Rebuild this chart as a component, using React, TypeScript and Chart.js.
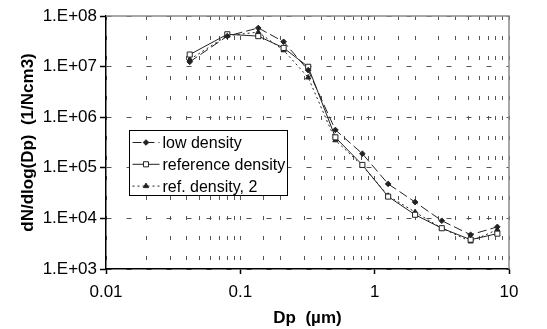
import React, { useEffect, useRef } from 'react';
import { Chart, registerables } from 'chart.js';
Chart.register(...registerables);

const diameters = [0.042, 0.08, 0.136, 0.21, 0.32, 0.51, 0.81, 1.26, 2.0, 3.16, 5.18, 8.19];
const lowDensity = [1.24e7, 4.0e7, 5.8e7, 3.1e7, 8.5e6, 5.6e5, 1.9e5, 4.8e4, 2.1e4, 9.0e3, 4.75e3, 6.8e3];
const referenceDensity = [1.73e7, 4.35e7, 4.0e7, 2.34e7, 9.9e6, 4.0e5, 1.14e5, 2.7e4, 1.18e4, 6.4e3, 3.8e3, 5.0e3];
const refDensity2 = [1.38e7, 4.1e7, 4.8e7, 2.1e7, 6.1e6, 3.5e5, 1.1e5, 2.8e4, 1.33e4, 6.4e3, 3.5e3, 6.0e3];
const seriesNames = ['low density', 'reference density', 'ref. density, 2'];
const xTickLabels = ['0.01', '0.1', '1', '10'];
const yTickLabels = ['1.E+03', '1.E+04', '1.E+05', '1.E+06', '1.E+07', '1.E+08'];
const xTitle = 'Dp  (\u00b5m)';
const yTitle = 'dN/dlog(Dp)  (1/Ncm3)';

const FONT = '"Liberation Sans", Arial, sans-serif';
const INK = '#222222';

const isDecade = (v: number) => Math.abs(Math.log10(v) - Math.round(Math.log10(v))) < 1e-6;

function drawMarker(ctx: CanvasRenderingContext2D, style: string, x: number, y: number, r: number) {
  ctx.beginPath();
  if (style === 'rect') {
    const s = Math.SQRT1_2 * r;
    ctx.rect(x - s, y - s, 2 * s, 2 * s);
  } else if (style === 'rectRot') {
    const s = r;
    ctx.moveTo(x - s, y);
    ctx.lineTo(x, y - s);
    ctx.lineTo(x + s, y);
    ctx.lineTo(x, y + s);
    ctx.closePath();
  } else {
    const s = r;
    ctx.moveTo(x - s * 0.866, y + s * 0.5);
    ctx.lineTo(x, y - s);
    ctx.lineTo(x + s * 0.866, y + s * 0.5);
    ctx.closePath();
  }
  ctx.fill();
  ctx.stroke();
}

const frameAndLegend = {
  id: 'frameAndLegend',
  afterDatasetsDraw(chart: any) {
    const { ctx, chartArea } = chart;
    ctx.save();
    ctx.strokeStyle = '#8a8a8a';
    ctx.lineWidth = 1.5;
    ctx.setLineDash([]);
    ctx.beginPath();
    ctx.moveTo(chartArea.left, chartArea.top);
    ctx.lineTo(chartArea.right, chartArea.top);
    ctx.lineTo(chartArea.right, chartArea.bottom);
    ctx.stroke();

    const bx = 129.5, by = 130.5, bw = 158, bh = 65;
    ctx.fillStyle = '#ffffff';
    ctx.fillRect(bx, by, bw, bh);
    ctx.strokeStyle = '#000';
    ctx.lineWidth = 1;
    ctx.strokeRect(bx, by, bw, bh);

    ctx.font = `16px ${FONT}`;
    ctx.textBaseline = 'middle';
    ctx.textAlign = 'left';
    chart.data.datasets.forEach((ds: any, i: number) => {
      const cy = by + 12 + i * 21.8;
      ctx.strokeStyle = ds.borderColor;
      ctx.lineWidth = ds.borderWidth;
      ctx.setLineDash(ds.borderDash || []);
      ctx.beginPath();
      ctx.moveTo(bx + 3, cy);
      ctx.lineTo(bx + 30, cy);
      ctx.stroke();
      ctx.setLineDash([]);
      ctx.fillStyle = ds.pointBackgroundColor;
      ctx.strokeStyle = ds.pointBorderColor;
      ctx.lineWidth = 1;
      drawMarker(ctx, ds.pointStyle, bx + 16.5, cy, ds.pointRadius);
      ctx.fillStyle = '#000';
      ctx.fillText(ds.label, bx + 33, cy + 1);
    });
    ctx.restore();
  },
};

export default function App() {
  const ref = useRef<HTMLCanvasElement | null>(null);
  useEffect(() => {
    if (!ref.current) return;
    const mk = (vals: number[]) => diameters.map((d, i) => ({ x: d, y: vals[i] }));
    const chart = new Chart(ref.current, {
      type: 'line',
      data: {
        datasets: [
          {
            label: seriesNames[0],
            data: mk(lowDensity),
            borderColor: INK,
            borderWidth: 1,
            borderDash: [9, 4],
            pointStyle: 'rectRot',
            pointRadius: 2.8,
            pointBackgroundColor: INK,
            pointBorderColor: INK,
          },
          {
            label: seriesNames[1],
            data: mk(referenceDensity),
            borderColor: INK,
            borderWidth: 1,
            pointStyle: 'rect',
            pointRadius: 3.6,
            pointBackgroundColor: '#ffffff',
            pointBorderColor: INK,
          },
          {
            label: seriesNames[2],
            data: mk(refDensity2),
            borderColor: INK,
            borderWidth: 1,
            borderDash: [2, 3],
            pointStyle: 'triangle',
            pointRadius: 3,
            pointBackgroundColor: INK,
            pointBorderColor: INK,
          },
        ],
      } as any,
      options: {
        animation: false,
        responsive: false,
        maintainAspectRatio: false,
        layout: { padding: { top: 16, right: 38, bottom: 0, left: 0 } },
        plugins: { legend: { display: false }, tooltip: { enabled: false } },
        scales: {
          x: {
            type: 'logarithmic',
            min: 0.01,
            max: 10,
            afterFit: (s: any) => { s.height = 60; },
            grid: {
              color: '#555',
              lineWidth: 1,
              tickLength: 5,
              tickColor: (c: any) => (c.tick && isDecade(c.tick.value) ? '#000' : 'rgba(0,0,0,0)'),
              tickWidth: 1.5,
            },
            border: { display: true, color: '#000', width: 1.5, dash: [4, 16] },
            ticks: {
              autoSkip: false,
              maxRotation: 0,
              padding: 8,
              color: '#000',
              font: { family: FONT, size: 17 },
              callback: (v: any) => {
                const val = Number(v);
                if (!isDecade(val)) return '';
                return xTickLabels[Math.round(Math.log10(val)) + 2];
              },
            },
            title: {
              display: true,
              text: xTitle,
              color: '#000',
              font: { family: FONT, size: 17, weight: 'bold' },
              padding: { top: 0, bottom: 0 },
            },
          },
          y: {
            type: 'logarithmic',
            min: 1e3,
            max: 1e8,
            afterFit: (s: any) => { s.width = 106; },
            afterBuildTicks: (s: any) => { s.ticks = s.ticks.filter((t: any) => isDecade(t.value)); },
            grid: {
              color: '#555',
              lineWidth: 1,
              tickLength: 6,
              tickColor: '#000',
              tickWidth: 1.5,
            },
            border: { display: true, color: '#000', width: 1.5, dash: [5, 15] },
            ticks: {
              padding: 3,
              color: '#000',
              font: { family: FONT, size: 17 },
              callback: (v: any) => yTickLabels[Math.round(Math.log10(Number(v))) - 3],
            },
            title: {
              display: true,
              text: yTitle,
              color: '#000',
              font: { family: FONT, size: 17, weight: 'bold' },
              padding: { top: 18, bottom: 0 },
            },
          },
        },
      } as any,
      plugins: [frameAndLegend],
    });
    return () => chart.destroy();
  }, []);
  return (
    <div style={{ position: 'absolute', left: 0, top: 0, width: 547, height: 329, background: '#fff' }}>
      <canvas ref={ref} width={547} height={329} style={{ width: 547, height: 329 }} />
    </div>
  );
}
